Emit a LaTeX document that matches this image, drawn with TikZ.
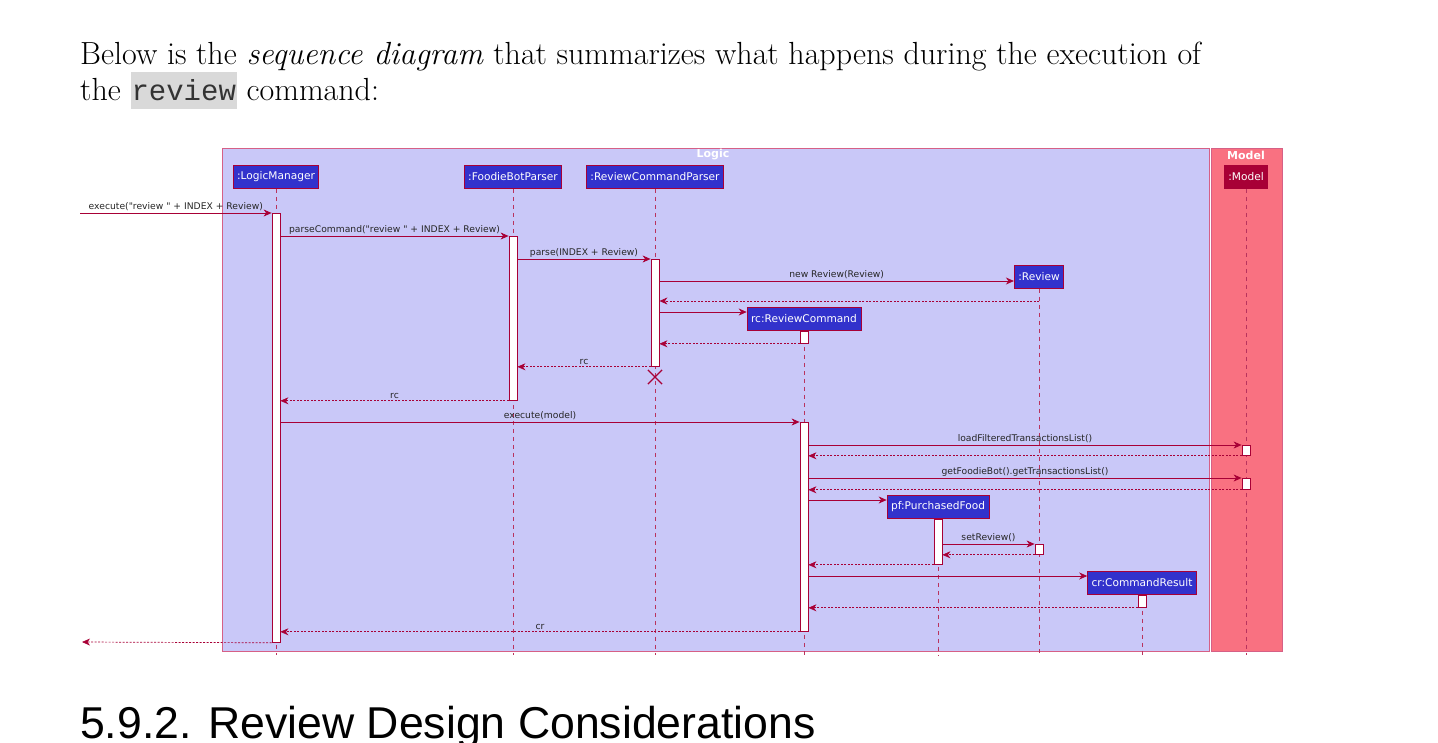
\documentclass[tikz,border=0pt]{standalone}
\usepackage{fontspec}
\newfontfamily\umlfont{DejaVu Sans}
\newfontfamily\headfont{Liberation Sans}
\setmonofont{Liberation Mono}
\usepackage{xcolor}
\usepackage{tikz}
\usetikzlibrary{arrows.meta, positioning, shapes.misc}

\definecolor{logicfill}{RGB}{201,200,248}
\definecolor{modelfill}{RGB}{249,113,129}
\definecolor{frameline}{RGB}{214,96,134}
\definecolor{umlred}{RGB}{168,0,54}
\definecolor{partblue}{RGB}{50,50,204}
\definecolor{codegrey}{RGB}{217,217,217}

\begin{document}
\begin{tikzpicture}[x=1pt, y=-1pt,
    part/.style={draw=umlred, fill=partblue, text=white, line width=0.8pt,
                 minimum height=23pt, inner xsep=4pt, inner ysep=0pt,
                 font=\umlfont\fontsize{10.6}{12}\selectfont},
    act/.style={draw=umlred, fill=white, line width=0.8pt, minimum width=8pt,
                inner sep=0pt, anchor=north},
    life/.style={draw=umlred!80, line width=0.8pt, dash pattern=on 4pt off 4pt},
    msg/.style={draw=umlred, line width=0.7pt, -{Stealth[length=8pt, width=7pt, inset=2.5pt]}},
    ret/.style={msg, dash pattern=on 2pt off 1.5pt},
    lbl/.style={font=\umlfont\fontsize{9.2}{10}\selectfont, text=black!85, inner sep=1.5pt},
    ttl/.style={font=\umlfont\bfseries\fontsize{11}{12}\selectfont, text=white}
]
\useasboundingbox (0,0) rectangle (1438,742);

% page text
\node[anchor=base west, inner sep=0pt, font=\fontsize{32}{36}\selectfont] (intro) at (80,64)
  {Below is the \textit{sequence diagram} that summarizes what happens during the execution of};
\node[anchor=base west, inner sep=0pt, font=\fontsize{32}{36}\selectfont] (introb) at (80,100)
  {the {\setlength{\fboxsep}{1pt}\colorbox{codegrey}{\rule[-8pt]{0pt}{35pt}\color{black!80}\ttfamily\fontsize{29}{36}\selectfont review}} command:};
\node[anchor=base west, inner sep=0pt, font=\headfont\fontsize{44.6}{50}\selectfont] (heading) at (80,738)
  {5.9.2. Review Design Considerations};

% frames
\draw[draw=frameline, fill=logicfill, line width=1pt] (222,148) rectangle (1209,651);
\draw[draw=frameline, fill=modelfill, line width=1pt] (1211,148) rectangle (1282,651);
\node[ttl] (logicttl) at (713,155) {Logic};
\node[ttl] (modelttl) at (1246,155) {Model};

% participants
\node[part] (lm)  at (276,177) {:LogicManager};
\node[part] (fb)  at (513,177) {:FoodieBotParser};
\node[part] (rcp) at (655,177) {:ReviewCommandParser};
\node[part, fill=umlred] (md) at (1246,177) {:Model};
\node[part] (rv)  at (1039,277) {:Review};
\node[part] (rc)  at (804,319) {rc:ReviewCommand};
\node[part] (pf)  at (938,507) {pf:PurchasedFood};
\node[part] (cr)  at (1142,583) {cr:CommandResult};

% lifelines
\foreach \p in {lm, fb, rcp, md, rv, rc, pf, cr}
  \draw[life] (\p.south) -- (\p.south |- 0,655);

% activations
\node[act, minimum height=429pt] (lmA)  at (276,213) {};
\node[act, minimum height=164pt] (fbA)  at (513,236) {};
\node[act, minimum height=107pt] (rcpA) at (655,259) {};
\node[act, minimum height=12pt]  (rcA)  at (804,331) {};
\node[act, minimum height=209pt] (rcB)  at (804,422) {};
\node[act, minimum height=10pt]  (mdA)  at (1246,445) {};
\node[act, minimum height=11pt]  (mdB)  at (1246,478) {};
\node[act, minimum height=45pt]  (pfA)  at (938,519) {};
\node[act, minimum height=10pt]  (rvA)  at (1039,544) {};
\node[act, minimum height=12pt]  (crA)  at (1142,595) {};

\node[draw=umlred, cross out, line width=1.2pt, minimum size=13pt, inner sep=0pt] (rcpX) at (655,377) {};

\coordinate (entry) at (80,213);
\coordinate (exit) at (82,642);

% messages
\draw[msg] (entry) -- node[lbl, above] {execute("review " + INDEX + Review)} (lmA.north west);
\draw[msg] (lmA.east |- 0,236) -- node[lbl, above] {parseCommand("review " + INDEX + Review)} (fbA.north west);
\draw[msg] (fbA.east |- 0,259) -- node[lbl, above] {parse(INDEX + Review)} (rcpA.north west);
\draw[msg] (rcpA.east |- 0,281) -- node[lbl, above] {new Review(Review)} (rv.west |- 0,281);
\draw[ret] (rv.south |- 0,301) -- (rcpA.east |- 0,301);
\draw[msg] (rcpA.east |- 0,312) -- (rc.west |- 0,312);
\draw[ret] (rcA.south west) -- (rcpA.east |- rcA.south);
\draw[ret] (rcpA.south west) -- node[lbl, above] {rc} (fbA.east |- rcpA.south);
\draw[ret] (fbA.south west) -- node[lbl, above] {rc} (lmA.east |- fbA.south);
\draw[msg] (lmA.east |- rcB.north) -- node[lbl, above] {execute(model)} (rcB.north west);
\draw[msg] (rcB.east |- mdA.north) -- node[lbl, above] {loadFilteredTransactionsList()} (mdA.north west);
\draw[ret] (mdA.south west) -- (rcB.east |- mdA.south);
\draw[msg] (rcB.east |- mdB.north) -- node[lbl, above] {getFoodieBot().getTransactionsList()} (mdB.north west);
\draw[ret] (mdB.south west) -- (rcB.east |- mdB.south);
\draw[msg] (rcB.east |- 0,500) -- (pf.west |- 0,500);
\draw[msg] (pfA.east |- rvA.north) -- node[lbl, above] {setReview()} (rvA.north west);
\draw[ret] (rvA.south west) -- (pfA.east |- rvA.south);
\draw[ret] (pfA.south west) -- (rcB.east |- pfA.south);
\draw[msg] (rcB.east |- 0,576) -- (cr.west |- 0,576);
\draw[ret] (crA.south west) -- (rcB.east |- crA.south);
\draw[ret] (rcB.south west) -- node[lbl, above] {cr} (lmA.east |- rcB.south);
\draw[ret] (lmA.south west) -- (exit);
\end{tikzpicture}
\end{document}
